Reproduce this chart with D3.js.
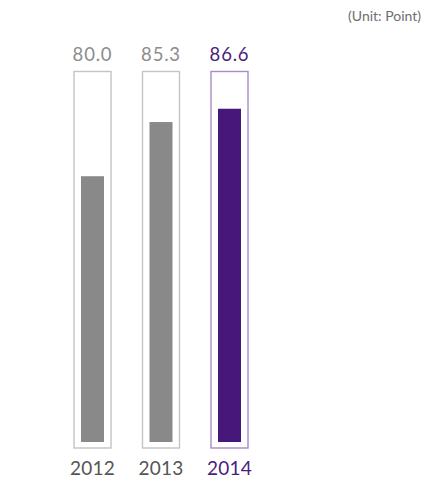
<!DOCTYPE html>
<html>
<head>
<meta charset="utf-8">
<script src="https://cdn.jsdelivr.net/npm/d3@7"></script>
<style>
html,body{margin:0;padding:0;background:#fff;}
svg{display:block;font-family:Lato,"Noto Sans",sans-serif;}
</style>
</head>
<body>
<svg id="chart" width="438" height="481"></svg>
<script>
const years = ["2012", "2013", "2014"];
const values = [80.0, 85.3, 86.6];
const highlight = ["2014"];
const unitLabel = "(Unit: Point)";

const svg = d3.select("#chart");
const x = d3.scalePoint().domain(years).range([92.5, 229.5]);
const y = d3.scaleLinear().domain([54, 90]).range([442, 74]);

const grey = "#898989", purple = "#47177a";
const isHi = d => highlight.includes(d);

const data = years.map((yr, i) => ({year: yr, value: values[i]}));

// outline boxes
svg.selectAll("rect.box").data(data).join("rect")
  .attr("class", "box")
  .attr("x", d => x(d.year) - 18.5)
  .attr("y", 71.5)
  .attr("width", 37)
  .attr("height", 376.5)
  .attr("fill", "none")
  .attr("stroke", d => isHi(d.year) ? "#a78cc6" : "#c4c4c4")
  .attr("stroke-width", 1.4);

// bars
svg.selectAll("rect.bar").data(data).join("rect")
  .attr("class", "bar")
  .attr("x", d => x(d.year) - 11.5)
  .attr("y", d => y(d.value))
  .attr("width", 23)
  .attr("height", d => y.range()[0] - y(d.value))
  .attr("fill", d => isHi(d.year) ? purple : grey);

// value labels
svg.selectAll("text.val").data(data).join("text")
  .attr("class", "val")
  .attr("x", d => x(d.year))
  .attr("y", 60.5)
  .attr("text-anchor", "middle")
  .attr("font-size", 18.5)
  .attr("letter-spacing", 0.8)
  .attr("fill", d => isHi(d.year) ? "#4b1c81" : "#8c8c8c")
  .text(d => d.value.toFixed(1));

// year labels
svg.selectAll("text.yr").data(data).join("text")
  .attr("class", "yr")
  .attr("x", d => x(d.year))
  .attr("y", 475)
  .attr("text-anchor", "middle")
  .attr("font-size", 19)
  .attr("letter-spacing", 0.2)
  .attr("fill", d => isHi(d.year) ? "#4b1c81" : "#555555")
  .text(d => d.year);

// unit label
svg.append("text")
  .attr("x", 421)
  .attr("y", 21)
  .attr("text-anchor", "end")
  .attr("font-size", 14)
  .attr("fill", "#6e6e6e")
  .text(unitLabel);
</script>
</body>
</html>
